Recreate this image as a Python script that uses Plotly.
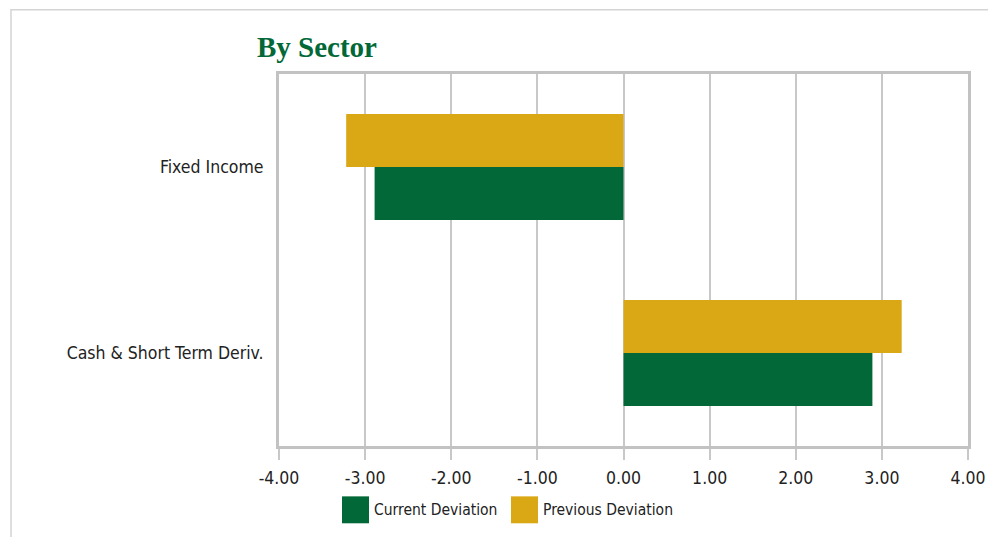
import plotly.graph_objects as go

# Sector deviations (percentage points)
sectors = ["Cash & Short Term Deriv.", "Fixed Income"]
current_deviation = [2.89, -2.89]
previous_deviation = [3.23, -3.22]

series_names = ["Current Deviation", "Previous Deviation"]
series_colors = ["#026837", "#D9A814"]

x_ticks = [-4, -3, -2, -1, 0, 1, 2, 3, 4]
x_tick_labels = ["-4.00", "-3.00", "-2.00", "-1.00", "0.00", "1.00", "2.00", "3.00", "4.00"]

W, H = 988, 537
ML, MR, MT, MB = 279, 20, 73.5, 90.5
PW, PH = W - ML - MR, H - MT - MB

narrow = "Liberation Sans Narrow, Arial Narrow, DejaVu Sans Condensed, sans-serif"
grid = "#C8C8C8"
text_color = "#222222"

fig = go.Figure()
for name, vals, col in zip(series_names, [current_deviation, previous_deviation], series_colors):
    fig.add_trace(go.Bar(
        y=sectors, x=vals, name=name, orientation="h",
        marker=dict(color=col, line=dict(width=0)),
        showlegend=False, hoverinfo="x+y",
    ))


def px_x(px):
    return (px - ML) / PW


def px_y(py):
    return (H - MB - py) / PH


# Legend drawn as square swatches with labels below the axis
shapes = []
annotations = []
legend_left = [342, 511]
for left, name, col in zip(legend_left, series_names, series_colors):
    shapes.append(dict(type="rect", xref="paper", yref="paper",
                       x0=px_x(left), x1=px_x(left + 27),
                       y0=px_y(524), y1=px_y(497),
                       fillcolor=col, line=dict(width=0)))
    annotations.append(dict(xref="paper", yref="paper", x=px_x(left + 30), y=px_y(511),
                            xanchor="left", yanchor="middle", showarrow=False,
                            text=name, font=dict(family=narrow, size=15.5, color=text_color)))

# Outer page border
shapes.append(dict(type="rect", xref="paper", yref="paper",
                   x0=px_x(11), x1=px_x(W + 5), y0=px_y(H + 5), y1=px_y(9),
                   line=dict(color="#D4D4D4", width=1.5), layer="below"))

fig.update_layout(
    width=W, height=H,
    margin=dict(l=ML, r=MR, t=MT, b=MB),
    paper_bgcolor="white", plot_bgcolor="white",
    barmode="group", bargap=0.43, bargroupgap=0,
    title=dict(text="<b>By Sector</b>", xref="container", yref="container",
               x=257 / W, xanchor="left", y=1 - 47 / H, yanchor="middle",
               font=dict(family="Liberation Serif, Times New Roman, serif", size=29, color="#026837")),
    xaxis=dict(range=[-4, 4], tickvals=x_ticks, ticktext=x_tick_labels,
               automargin=False,
               showgrid=True, gridcolor=grid, gridwidth=2,
               zeroline=False,
               showline=True, linecolor="#C2C2C2", linewidth=3, mirror=True,
               ticks="outside", ticklen=11, tickwidth=2, tickcolor=grid,
               ticklabelstandoff=3,
               tickfont=dict(family=narrow, size=17.5, color=text_color)),
    yaxis=dict(type="category", categoryorder="array", categoryarray=sectors,
               automargin=False,
               showgrid=False, zeroline=False,
               showline=True, linecolor="#C2C2C2", linewidth=3, mirror=True,
               ticks="", ticklabelstandoff=9,
               tickfont=dict(family=narrow, size=17.5, color=text_color)),
    shapes=shapes, annotations=annotations,
    showlegend=False,
)

fig.write_html("out.html")
